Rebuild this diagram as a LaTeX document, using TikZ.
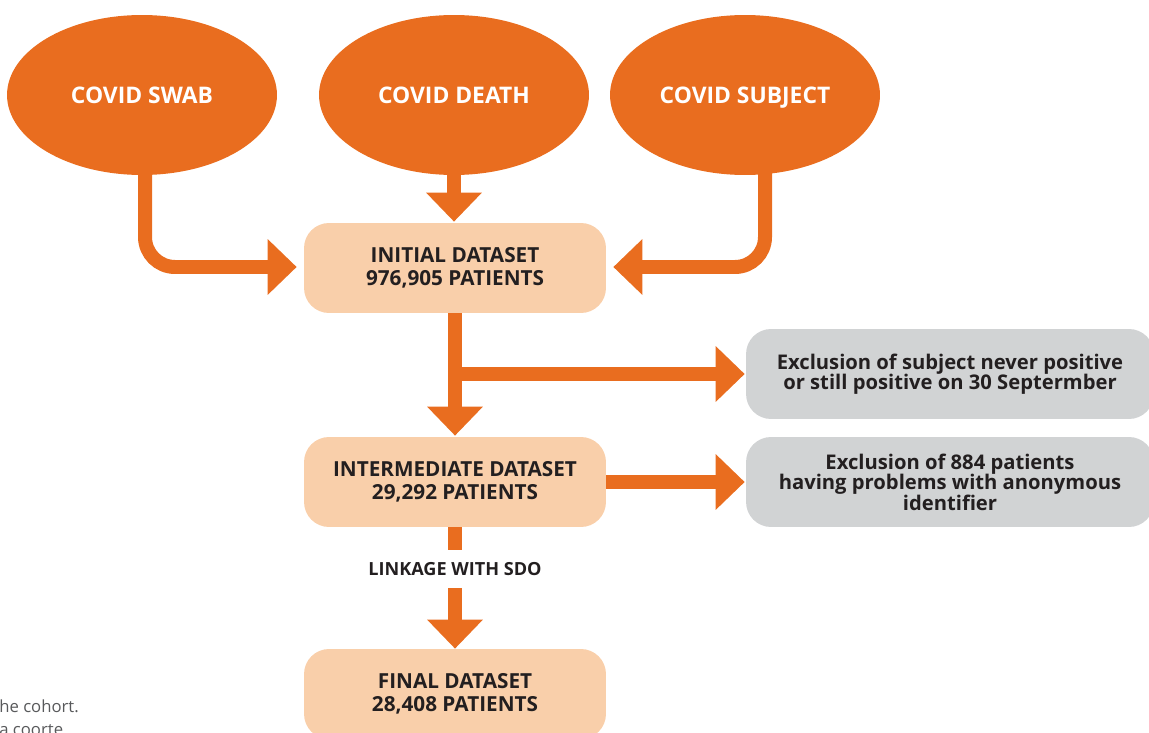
\documentclass[tikz,border=0pt]{standalone}
\usepackage{fontspec}
\setmainfont{Open Sans}
\usetikzlibrary{shapes.geometric,arrows.meta,calc}

\definecolor{covidorange}{HTML}{E96D1F}
\definecolor{datapeach}{HTML}{F9CFAA}
\definecolor{exclgrey}{HTML}{D1D3D4}
\definecolor{textdark}{HTML}{231F20}
\definecolor{captiongrey}{HTML}{58595B}

\tikzset{
	source/.style={ellipse, fill=covidorange, text=white, inner sep=0pt,
		minimum width=5.4cm, minimum height=3.2cm, text height=1em, text depth=0pt,
		font=\bfseries\fontsize{13}{15}\selectfont},
	dataset/.style={rectangle, rounded corners=0.5cm, fill=datapeach, text=textdark,
		align=center, inner sep=0pt, minimum width=6.04cm, minimum height=1.8cm,
		font=\bfseries\fontsize{11.8}{13}\selectfont},
	exclusion/.style={dataset, fill=exclgrey, minimum width=8.16cm,
		font=\bfseries\fontsize{11.5}{11.6}\selectfont},
	linkage/.style={text=textdark, inner sep=0pt, minimum height=0.76cm,
		font=\bfseries\fontsize{10.3}{12}\selectfont},
	caption/.style={text=captiongrey, inner sep=0pt, anchor=west,
		font=\fontsize{9.5}{11}\selectfont},
	flow/.style={draw=covidorange, line width=0.28cm,
		-{Triangle[width=1.08cm,length=0.58cm]}},
	plainflow/.style={draw=covidorange, line width=0.28cm},
}

\begin{document}
\begin{tikzpicture}[x=0.02cm, y=-0.02cm]
			%%%%% START %%%%%
			\useasboundingbox (0, 0) rectangle (1149, 733);
			
			\node[source] (swab) at (142, 95) {COVID SWAB};
			\node[source] (death) at (454, 95) {COVID DEATH};
			\node[source] (subject) at (745, 95) {COVID SUBJECT};
			
			\node[dataset] (initial) at (455, 268) {INITIAL DATASET\\976,905 PATIENTS};
			\node[dataset] (intermediate) at (455, 482) {INTERMEDIATE DATASET\\29,292 PATIENTS};
			\node[dataset] (final) at (455, 694) {FINAL DATASET\\28,408 PATIENTS};
			
			\node[exclusion] (neverpos) at (950, 374) {Exclusion of subject never positive\\or still positive on 30 Septermber};
			\node[exclusion] (anonid) at (950, 482) {Exclusion of 884 patients\\having problems with anonymous\\identifier};
			
			\node[linkage] (sdo) at (455, 569) {LINKAGE WITH SDO};
			
			\node[caption] (capen) at (-1, 706) {he cohort.};
			\node[caption] (capit) at (-1, 730) {a coorte};
			
			\draw[flow, rounded corners=0.6cm] ($(swab.south)+(3, -5)$) |- ($(initial.west)+(-7, -1)$);
			\draw[flow] ($(death.south)+(0, -5)$) -- ($(death.south |- initial.north)+(0, -1)$);
			\draw[flow, rounded corners=0.6cm] ($(subject.south)+(20, -5)$) |- ($(initial.east)+(7, -1)$);
			
			\draw[flow] (initial.south) -- ($(intermediate.north)+(0, -1)$);
			\draw[flow] (initial.south |- neverpos.west) -- ($(neverpos.west)+(-1, 0)$);
			\draw[flow] (intermediate.east) -- ($(anonid.west)+(-1, 0)$);
			
			\draw[plainflow] (intermediate.south) -- (sdo.north);
			\draw[flow] (sdo.south) -- (final.north);
			
			%%%%% END %%%%%
\end{tikzpicture}
\end{document}
